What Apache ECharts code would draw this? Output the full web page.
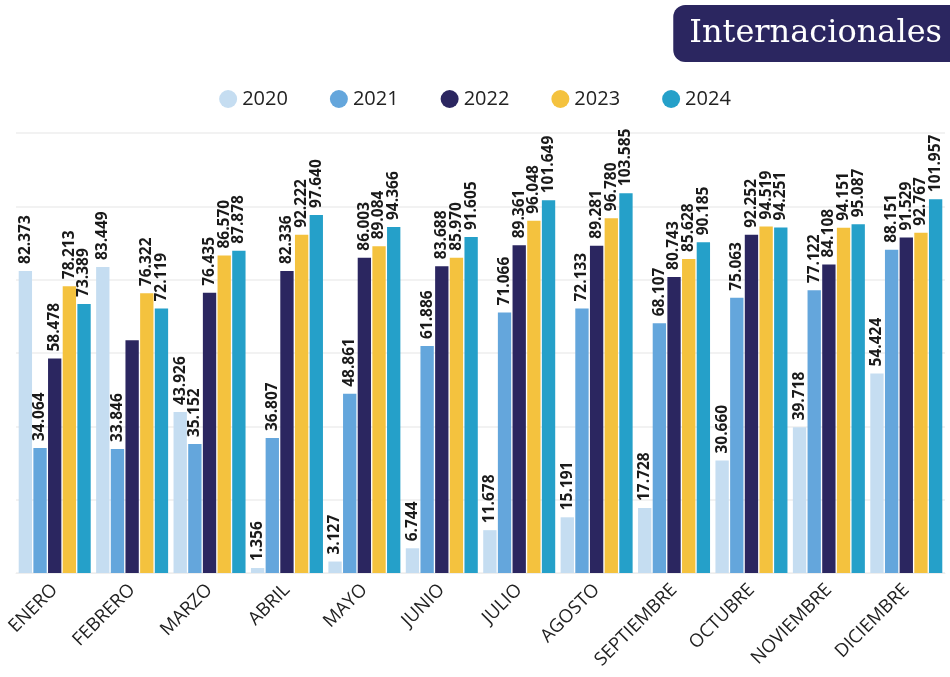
<!DOCTYPE html>
<html lang="es">
<head>
    <meta charset="UTF-8">
    <title>Internacionales</title>
    <script src="https://cdn.jsdelivr.net/npm/echarts@6.0.0/dist/echarts.min.js"></script>
    <style>
        html, body { margin: 0; padding: 0; background: #fff; }
        #chart { width: 950px; height: 677px; }
    </style>
</head>
<body>
<div id="chart"></div>
<script>
const meses = ['ENERO', 'FEBRERO', 'MARZO', 'ABRIL', 'MAYO', 'JUNIO', 'JULIO', 'AGOSTO', 'SEPTIEMBRE', 'OCTUBRE', 'NOVIEMBRE', 'DICIEMBRE'];
const anios = ['2020', '2021', '2022', '2023', '2024'];
const colores = ['#c5ddf1', '#64a6dc', '#2b2660', '#f4c23e', '#25a0c9'];

const datos2020 = [82.373, 83.449, 43.926, 1.356, 3.127, 6.744, 11.678, 15.191, 17.728, 30.660, 39.718, 54.424];
const datos2021 = [34.064, 33.846, 35.152, 36.807, 48.861, 61.886, 71.066, 72.133, 68.107, 75.063, 77.122, 88.151];
const datos2022 = [58.478, 63.5, 76.435, 82.336, 86.003, 83.688, 89.361, 89.281, 80.743, 92.252, 84.108, 91.529];
const datos2023 = [78.213, 76.322, 86.570, 92.222, 89.084, 85.970, 96.048, 96.780, 85.628, 94.519, 94.151, 92.767];
const datos2024 = [73.389, 72.119, 87.878, 97.640, 94.366, 91.605, 101.649, 103.585, 90.185, 94.251, 95.087, 101.957];

// en el original la etiqueta de febrero 2022 no aparece
const ocultas = { '2022': [1] };

const series = [datos2020, datos2021, datos2022, datos2023, datos2024].map((d, i) => ({
    name: anios[i],
    type: 'bar',
    barGap: '10%',
    barCategoryGap: '7%',
    itemStyle: { color: colores[i] },
    data: d.map((v, j) => {
        const item = { value: v };
        if ((ocultas[anios[i]] || []).includes(j)) item.label = { show: false };
        return item;
    }),
    label: {
        show: true,
        position: 'top',
        rotate: 90,
        align: 'left',
        verticalAlign: 'middle',
        distance: 7,
        fontFamily: 'Open Sans',
        fontWeight: 'bold',
        fontSize: 15.5,
        color: '#1a1a1a',
        formatter: p => p.value.toFixed(3)
    }
}));

const chart = echarts.init(document.getElementById('chart'));
chart.setOption({
    animation: false,
    title: {
        text: 'Internacionales',
        right: -14,
        top: 5,
        backgroundColor: '#2b2660',
        borderRadius: 12,
        padding: [13, 22, 12, 16],
        textStyle: {
            color: '#fff',
            fontFamily: 'DejaVu Serif',
            fontWeight: 'normal',
            fontSize: 32
        }
    },
    legend: {
        top: 84,
        left: 'center',
        icon: 'circle',
        itemWidth: 18,
        itemHeight: 18,
        itemGap: 42,
        textStyle: { fontFamily: 'Open Sans', fontSize: 20, color: '#222' },
        data: anios
    },
    grid: { left: 16, right: 5, top: 133, bottom: 104 },
    xAxis: {
        type: 'category',
        data: meses,
        axisLine: { show: true, lineStyle: { color: '#eeeeee' } },
        axisTick: { show: false },
        axisLabel: {
            rotate: 45,
            interval: 0,
            margin: 14,
            fontFamily: 'Open Sans',
            fontSize: 18.5,
            color: '#222'
        }
    },
    yAxis: {
        type: 'value',
        min: 0,
        max: 120,
        interval: 20,
        axisLabel: { show: false },
        axisLine: { show: false },
        axisTick: { show: false },
        splitLine: { lineStyle: { color: '#eeeeee', width: 1.5 } }
    },
    series: series
});
</script>
</body>
</html>
